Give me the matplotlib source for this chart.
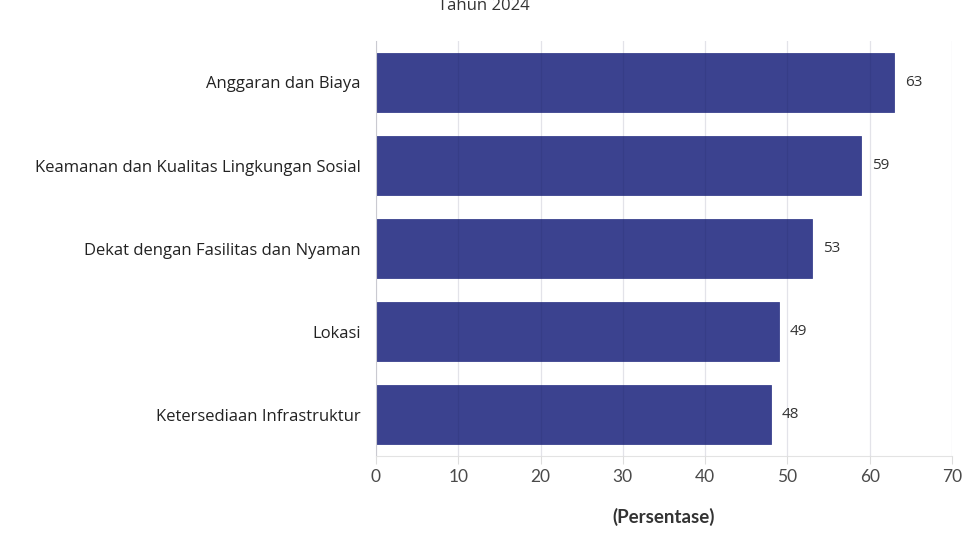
import matplotlib.pyplot as plt

categories = ["Anggaran dan Biaya",
              "Keamanan dan Kualitas Lingkungan Sosial",
              "Dekat dengan Fasilitas dan Nyaman",
              "Lokasi",
              "Ketersediaan Infrastruktur"]
values = [63, 59, 53, 49, 48]
xticks = [0, 10, 20, 30, 40, 50, 60, 70]

plt.rcParams['font.family'] = ['Open Sans', 'DejaVu Sans']

fig = plt.figure(figsize=(9.68, 5.43), dpi=100)
ax = fig.add_axes([0.3884, 0.1602, 0.595, 0.7643])

ypos = list(range(len(categories)))[::-1]
ax.barh(ypos, values, height=0.7, color='#3b428f', edgecolor='#3b428f', lw=0.6, zorder=2)

for y, v in zip(ypos, values):
    ax.text(v + 1.3, y, str(v), va='center', ha='left', fontsize=11, color='#333333')

ax.set_xlim(0, 70)
ax.set_ylim(-0.5, len(categories) - 0.5)
ax.set_xticks(xticks)
ax.set_xticklabels([str(t) for t in xticks], family=['Lato', 'DejaVu Sans'])
ax.set_yticks(ypos)
ax.set_yticklabels(categories, fontsize=12, color='#222222')
ax.tick_params(axis='x', labelsize=12.5, colors='#4a4a4a', length=6, width=0.8, color='#dddddd')
ax.tick_params(axis='y', length=0, pad=11)
ax.grid(axis='x', color='#1a1a50', alpha=0.12, lw=0.9, zorder=3)
ax.set_axisbelow(False)
for s in ['top', 'right']:
    ax.spines[s].set_visible(False)
ax.spines['bottom'].set_color('#e3e3e3')
ax.spines['left'].set_color('#e3e3e3')

ax.set_xlabel('(Persentase)', fontsize=13.5, fontweight='bold', color='#333333',
              labelpad=16, family=['Lato', 'DejaVu Sans'])
fig.text(0.5, 1 - 10 / 543, 'Tahun 2024', ha='center', va='baseline',
         fontsize=12, color='#333333')

fig.savefig('out.png', dpi=100)
